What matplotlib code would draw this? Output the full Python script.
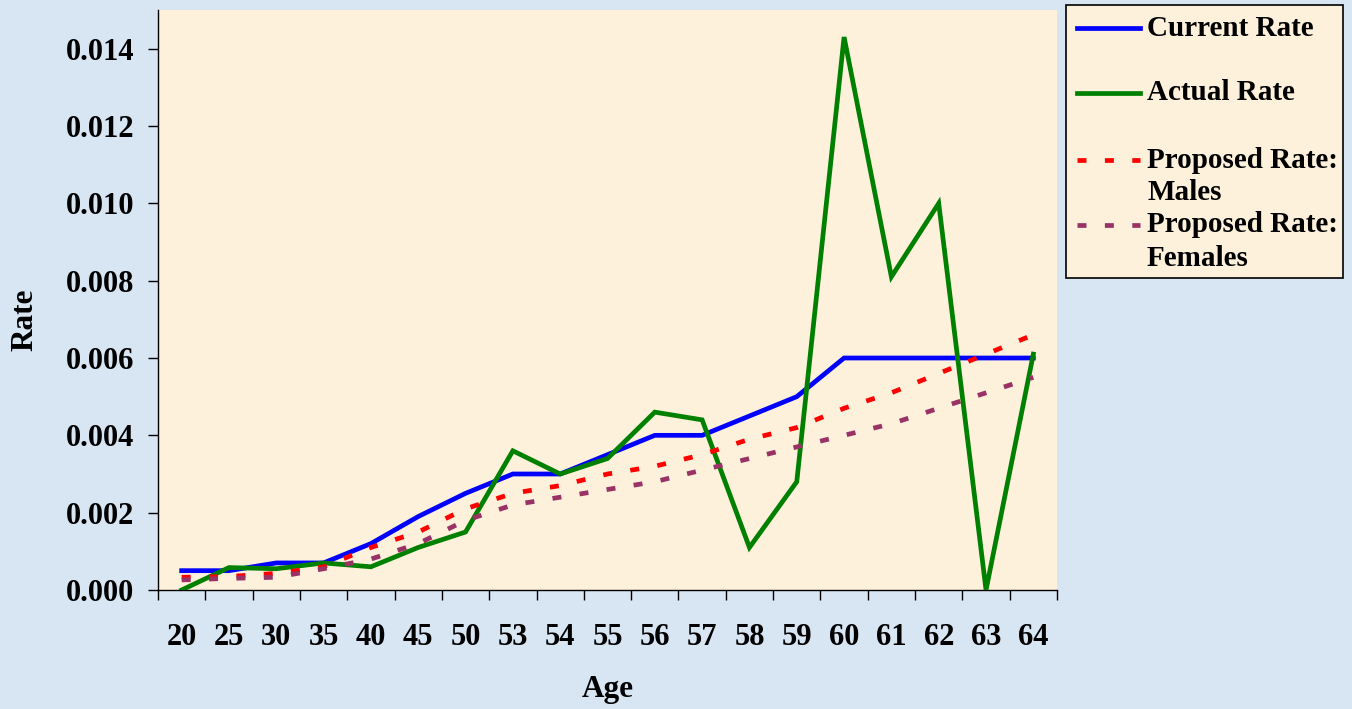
import matplotlib
matplotlib.use("Agg")
import matplotlib.pyplot as plt
from matplotlib.lines import Line2D
from matplotlib.patches import Rectangle
import numpy as np

ages = ["20", "25", "30", "35", "40", "45", "50", "53", "54", "55", "56", "57",
        "58", "59", "60", "61", "62", "63", "64"]
current_rate = [0.0005, 0.0005, 0.0007, 0.0007, 0.0012, 0.0019, 0.0025, 0.0030, 0.0030,
                0.0035, 0.0040, 0.0040, 0.0045, 0.0050, 0.0060, 0.0060, 0.0060, 0.0060, 0.0060]
actual_rate = [0.0000, 0.00058, 0.00055, 0.0007, 0.0006, 0.0011, 0.0015, 0.0036, 0.0030,
               0.0034, 0.0046, 0.0044, 0.0011, 0.0028, 0.0143, 0.0081, 0.0100, 0.0000, 0.0061]
proposed_males = [0.00033, 0.00035, 0.00043, 0.0006, 0.0011, 0.0015, 0.0021, 0.0025, 0.0027,
                  0.0030, 0.0032, 0.0035, 0.0039, 0.0042, 0.0047, 0.0051, 0.0056, 0.0061, 0.0066]
proposed_females = [0.00026, 0.0003, 0.00033, 0.00055, 0.0008, 0.0012, 0.0018, 0.0022, 0.0024,
                    0.0026, 0.0028, 0.0031, 0.0034, 0.0037, 0.0040, 0.0043, 0.0047, 0.0051, 0.0055]
series_labels = ["Current Rate", "Actual Rate", "Proposed Rate:\nMales", "Proposed Rate:\nFemales"]
y_ticks = [0.000, 0.002, 0.004, 0.006, 0.008, 0.010, 0.012, 0.014]

FONT = "Liberation Serif"
plt.rcParams['font.family'] = [FONT, 'DejaVu Serif']

W, H = 1352, 709
fig = plt.figure(figsize=(W / 100, H / 100), dpi=100)
fig.patch.set_facecolor("#D8E5F3")

ax = fig.add_axes([158 / W, 1 - 590 / H, (1057 - 158) / W, (590 - 10) / H])
ax.set_facecolor("#FDF1DB")

x = np.arange(len(ages))
LW = 3.4
DASH = (0, (1.9, 3.9))
styles = [
    dict(color="#0000FF", ls="-"),
    dict(color="#008000", ls="-"),
    dict(color="#FF0000", ls=DASH),
    dict(color="#993366", ls=DASH),
]
series = [current_rate, actual_rate, proposed_males, proposed_females]
for s, st in zip(series, styles):
    ax.plot(x, s, color=st["color"], lw=LW, linestyle=st["ls"],
            solid_joinstyle="miter", dash_capstyle="butt", zorder=3)

ax.set_xlim(-0.5, len(ages) - 0.5)
ax.set_ylim(0, 0.015)

ax.spines["top"].set_visible(False)
ax.spines["right"].set_visible(False)
ax.spines["left"].set_color("black")
ax.spines["bottom"].set_color("black")
ax.spines["left"].set_linewidth(1.0)
ax.spines["bottom"].set_linewidth(1.0)

TICK_FS = 22
ax.set_yticks(y_ticks)
ax.set_yticklabels([f"{v:.3f}" for v in y_ticks], fontsize=TICK_FS, fontweight="bold")
ax.tick_params(axis="y", direction="out", length=7, width=1.0, pad=10)

ax.set_xticks(np.arange(len(ages) + 1) - 0.5)
ax.set_xticklabels([])
ax.tick_params(axis="x", which="major", direction="out", length=7, width=1.0)
ax.set_xticks(x, minor=True)
ax.set_xticklabels(ages, minor=True, fontsize=TICK_FS, fontweight="bold")
ax.tick_params(axis="x", which="minor", length=0, pad=24)

ax.set_xlabel("Age", fontsize=22.5, fontweight="bold")
ax.xaxis.set_label_coords(0.5, -(690 - 590) / (590 - 10), transform=ax.transAxes)
ax.xaxis.label.set_va("center")
ax.set_ylabel("Rate", fontsize=22.5, fontweight="bold")
ax.yaxis.set_label_coords((25 - 158) / (1057 - 158), (590 - 320) / (590 - 10), transform=ax.transAxes)
ax.yaxis.label.set_va("center")

# legend box (manual, Excel-like layout)
fig.add_artist(Rectangle((1066 / W, 1 - 278 / H), (1343 - 1066) / W, (278 - 5) / H,
                         transform=fig.transFigure, facecolor="#FDF1DB",
                         edgecolor="black", lw=1.2, zorder=5))
row_y = [28, 93, 160, 225]
line_h = 33
for lab, st, ry in zip(series_labels, styles, row_y):
    fig.add_artist(Line2D([1077 / W, 1140 / W], [1 - ry / H, 1 - ry / H],
                          transform=fig.transFigure, color=st["color"], lw=LW,
                          linestyle=st["ls"], dash_capstyle="butt", zorder=6))
    for k, part in enumerate(lab.split("\n")):
        fig.text(1147 / W, 1 - (ry + k * line_h) / H, part, fontsize=21,
                 fontweight="bold", va="center", ha="left", zorder=7)

fig.savefig("out.png", dpi=100, facecolor=fig.get_facecolor())
